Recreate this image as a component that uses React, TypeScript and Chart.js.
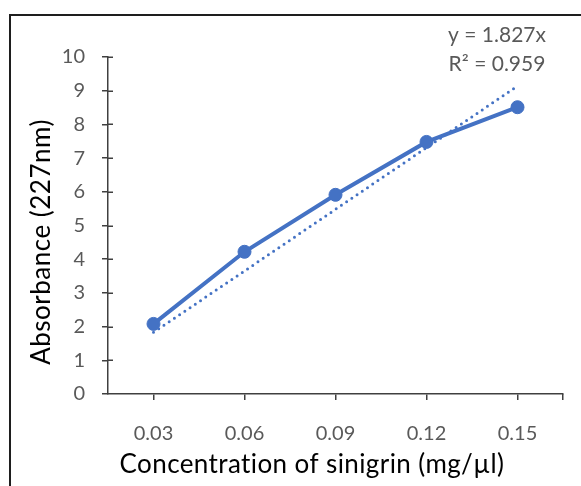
import React, { useEffect, useRef } from "react";
import { Chart, registerables } from "chart.js";

Chart.register(...registerables);

const categories = ["0.03", "0.06", "0.09", "0.12", "0.15"];
const absorbance = [2.08, 4.22, 5.91, 7.48, 8.51];
const trendline = [1.83, 3.65, 5.48, 7.31, 9.14];
const yMin = 0;
const yMax = 10;
const yStep = 1;
const xTitle = "Concentration of sinigrin (mg/µl)";
const yTitle = "Absorbance (227nm)";
const trendEquation = "y = 1.827x";
const trendR2 = "R² = 0.959";

const FONT = "Lato, Calibri, 'Noto Sans', sans-serif";
const AXIS = "#404040";
const TICK = "#595959";
const BLUE = "#4472C4";

const decorPlugin = {
  id: "decor",
  beforeDraw(chart: any) {
    const ctx = chart.ctx;
    ctx.save();
    ctx.fillStyle = "#ffffff";
    ctx.fillRect(0, 0, chart.width, chart.height);
    ctx.fillStyle = "#1e1e1e";
    ctx.fillRect(9, 14, 2, chart.height);
    ctx.fillRect(9, 14, chart.width, 2);
    ctx.restore();
  },
  afterDraw(chart: any) {
    const ctx = chart.ctx;
    const area = chart.chartArea;
    const ys = chart.scales.y;
    ctx.save();
    ctx.strokeStyle = AXIS;
    ctx.lineWidth = 1.5;
    ctx.beginPath();
    for (let v = yMin + yStep; v <= yMax; v += yStep) {
      const y = Math.round(ys.getPixelForValue(v)) + 0.25;
      ctx.moveTo(area.left, y);
      ctx.lineTo(area.left + 5, y);
    }
    const xr = Math.round(area.right) - 0.25;
    ctx.moveTo(xr, area.bottom);
    ctx.lineTo(xr, area.bottom + 6);
    ctx.stroke();

    ctx.fillStyle = "#000000";
    ctx.textAlign = "center";
    ctx.textBaseline = "middle";
    ctx.font = `26px ${FONT}`;
    ctx.letterSpacing = "0.4px";
    ctx.fillText(xTitle, 312, 465);
    ctx.save();
    ctx.translate(42, 242);
    ctx.rotate(-Math.PI / 2);
    ctx.letterSpacing = "0.5px";
    ctx.fillText(yTitle, 0, 0);
    ctx.restore();

    ctx.letterSpacing = "0px";
    ctx.fillStyle = TICK;
    ctx.font = `21px ${FONT}`;
    ctx.fillText(trendEquation, 497, 35);
    ctx.fillText(trendR2, 497, 64);
    ctx.restore();
  },
};

export default function App() {
  const ref = useRef<HTMLCanvasElement | null>(null);

  useEffect(() => {
    if (!ref.current) return;
    const chart = new Chart(ref.current, {
      type: "line",
      data: {
        labels: categories,
        datasets: [
          {
            label: "Absorbance",
            data: absorbance,
            borderColor: BLUE,
            backgroundColor: BLUE,
            borderWidth: 4,
            pointRadius: 6.5,
            pointBorderWidth: 1,
            pointBackgroundColor: BLUE,
            pointBorderColor: BLUE,
            tension: 0,
          },
          {
            label: "Linear trendline",
            data: trendline,
            borderColor: BLUE,
            borderWidth: 3,
            borderDash: [0, 6.3],
            borderCapStyle: "round",
            pointRadius: 0,
            tension: 0,
          },
        ],
      },
      options: {
        responsive: false,
        animation: false,
        layout: { padding: { left: 0, top: 57, right: 18, bottom: 0 } },
        plugins: {
          legend: { display: false },
          tooltip: { enabled: false },
        },
        scales: {
          x: {
            type: "category",
            offset: true,
            grid: {
              display: true,
              drawOnChartArea: false,
              drawTicks: true,
              tickLength: 6,
              color: AXIS,
              lineWidth: 1.5,
              offset: false,
            },
            border: { display: true, color: AXIS, width: 1.5 },
            ticks: {
              color: TICK,
              font: { family: FONT, size: 20 },
              padding: 22,
              maxRotation: 0,
              autoSkip: false,
            },
            afterFit: (s: any) => {
              s.height = 92;
            },
          },
          y: {
            min: yMin,
            max: yMax,
            grid: {
              display: true,
              drawOnChartArea: false,
              drawTicks: true,
              tickLength: 6,
              color: AXIS,
              lineWidth: 1.5,
            },
            border: { display: true, color: AXIS, width: 1.5 },
            ticks: {
              stepSize: yStep,
              color: TICK,
              font: { family: FONT, size: 20 },
              padding: 17,
            },
            afterFit: (s: any) => {
              s.width = 108;
            },
          },
        },
      },
      plugins: [decorPlugin],
    });
    return () => chart.destroy();
  }, []);

  return (
    <div style={{ position: "absolute", left: 0, top: 0, width: 581, height: 486 }}>
      <canvas ref={ref} width={581} height={486} style={{ display: "block" }} />
    </div>
  );
}
